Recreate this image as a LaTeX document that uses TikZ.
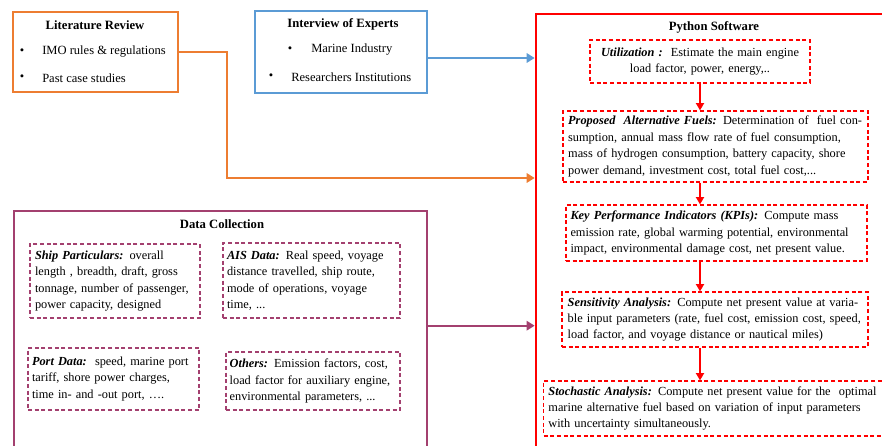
\documentclass[tikz,border=0pt]{standalone}
\usepackage{fontspec}
\setmainfont{Liberation Serif}
\usetikzlibrary{arrows.meta}
\definecolor{orangeC}{HTML}{ED7D31}
\definecolor{blueC}{HTML}{5B9BD5}
\definecolor{purpC}{HTML}{A3406F}
\newcommand\JL[1]{\makebox[\linewidth][s]{#1}}
\begin{document}
\begin{tikzpicture}[x=0.75pt,y=-0.75pt,
  txt/.style={font=\fontsize{9.4}{12.3}\selectfont, inner sep=0pt},
  ttl/.style={font=\fontsize{9.5}{12.3}\selectfont\bfseries, inner sep=0pt},
  bigbox/.style={line width=1.8pt, inner sep=0pt},
  dbox/.style={draw=red, line width=0.9pt, dash pattern=on 3pt off 2pt,
    font=\fontsize{9.25}{12.3}\selectfont, align=left, inner ysep=2pt},
  pbox/.style={dbox, draw=purpC},
  conn/.style={line width=1.8pt, -{Triangle[length=6pt,width=7pt]}},
  redarrow/.style={draw=red, line width=1.5pt, -{Triangle[length=5.5pt,width=6pt]}}
]
\useasboundingbox (0,0) rectangle (882,446);
\clip (0,0) rectangle (882,446);

% big frames
\node[bigbox, draw=red, line width=2pt, minimum width=269.25pt, minimum height=334.5pt] (py) at (715.5,237) {};
\node[bigbox, draw=purpC, minimum width=309.75pt, minimum height=186.75pt] (dc) at (220.5,335.5) {};
\node[bigbox, draw=orangeC, minimum width=123.75pt, minimum height=60pt] (lit) at (95.5,52) {};
\node[bigbox, draw=blueC, minimum width=129pt, minimum height=61.5pt] (intv) at (341,52) {};

% literature review
\node[ttl] (litT) at (95,25) {Literature Review};
\node[txt] (litB1) at (22,52) {•};
\node[txt, anchor=west] (litI1) at (42,52) {IMO rules \& regulations};
\node[txt] (litB2) at (22,78) {•};
\node[txt, anchor=west] (litI2) at (42,78) {Past case studies};

% interview
\node[ttl] (intT) at (343,24) {Interview of Experts};
\node[txt] (intB1) at (290,50) {•};
\node[txt, anchor=west] (intI1) at (311,50) {Marine Industry};
\node[txt] (intB2) at (271,77) {•};
\node[txt, anchor=west] (intI2) at (291,77) {Researchers Institutions};

% python software
\node[ttl] (pyT) at (714,27) {Python Software};
\node[dbox, align=center, text width=157pt, inner xsep=4pt, minimum height=32.25pt] (util) at (700,61.5)
  {\textbf{\textit{Utilization :}}\ \ Estimate the main engine\\ load factor, power, energy,..};
\node[dbox, text width=221pt, inner xsep=3.9pt, minimum height=53.25pt] (prop) at (715.5,146.5)
  {\JL{\textbf{\textit{Proposed\ \ Alternative Fuels:}} Determination of\ \ fuel con-}\\
   \JL{sumption, annual mass flow rate of fuel consumption,}\\
   \JL{mass of hydrogen consumption, battery capacity, shore}\\
   power demand, investment cost, total fuel cost,...};
\node[dbox, text width=219pt, inner xsep=3.4pt, minimum height=42pt] (kpi) at (716.5,233)
  {\JL{\textbf{\textit{Key Performance Indicators (KPIs):}} Compute mass}\\
   \JL{emission rate, global warming potential, environmental}\\
   \JL{impact, environmental damage cost, net present value.}};
\node[dbox, text width=221pt, inner xsep=4.25pt, minimum height=41.25pt] (sens) at (715,319.5)
  {\JL{\textbf{\textit{Sensitivity Analysis:}} Compute net present value at varia-}\\
   \JL{ble input parameters (rate, fuel cost, emission cost, speed,}\\
   load factor, and voyage distance or nautical miles)};
\node[dbox, text width=249pt, inner xsep=3.6pt, minimum height=41.25pt, anchor=west] (stoch) at (543,408.5)
  {\JL{\textbf{\textit{Stochastic Analysis:}} Compute net present value for the\ \ optimal}\\
   \JL{marine alternative fuel based on variation of input parameters}\\
   with uncertainty simultaneously.};

% data collection
\node[ttl] (dcT) at (222,224) {Data Collection};
\node[pbox, text width=120pt, inner xsep=3.75pt, minimum height=55.5pt] (ship) at (115,281)
  {\textbf{\textit{Ship Particulars:}} overall\\ length , breadth, draft, gross\\ tonnage, number of passenger,\\ power capacity, designed};
\node[pbox, text width=126.75pt, inner xsep=3pt, minimum height=56.25pt] (ais) at (311.5,280.5)
  {\textbf{\textit{AIS Data:}} Real speed, voyage\\ distance travelled, ship route,\\ mode of operations, voyage\\ time, ...};
\node[pbox, text width=122.25pt, inner xsep=3pt, minimum height=46.5pt] (port) at (113.5,379)
  {\textbf{\textit{Port Data:}}\ \ speed, marine port\\ tariff, shore power charges,\\ time in- and -out port, ….};
\node[pbox, text width=125pt, inner xsep=2.75pt, minimum height=43.5pt] (oth) at (313,381)
  {\textbf{\textit{Others:}} Emission factors, cost,\\ \mbox{load factor for auxiliary engine,}\\ environmental parameters, ...};

% connectors
\coordinate (obend) at (227,178);
\coordinate (bly) at (0,58);
\coordinate (pry) at (0,325.7);
\draw[conn, draw=orangeC] (lit.east) -| (obend) -- (py.west |- obend);
\draw[conn, draw=blueC] (intv.east |- bly) -- (py.west |- bly);
\draw[conn, draw=purpC] (dc.east |- pry) -- (py.west |- pry);

\draw[redarrow] (util.south) -- (util.south |- prop.north);
\draw[redarrow] (prop.south -| util.south) -- (kpi.north -| util.south);
\draw[redarrow] (kpi.south -| util.south) -- (sens.north -| util.south);
\draw[redarrow] (sens.south -| util.south) -- (stoch.north -| util.south);
\end{tikzpicture}
\end{document}
